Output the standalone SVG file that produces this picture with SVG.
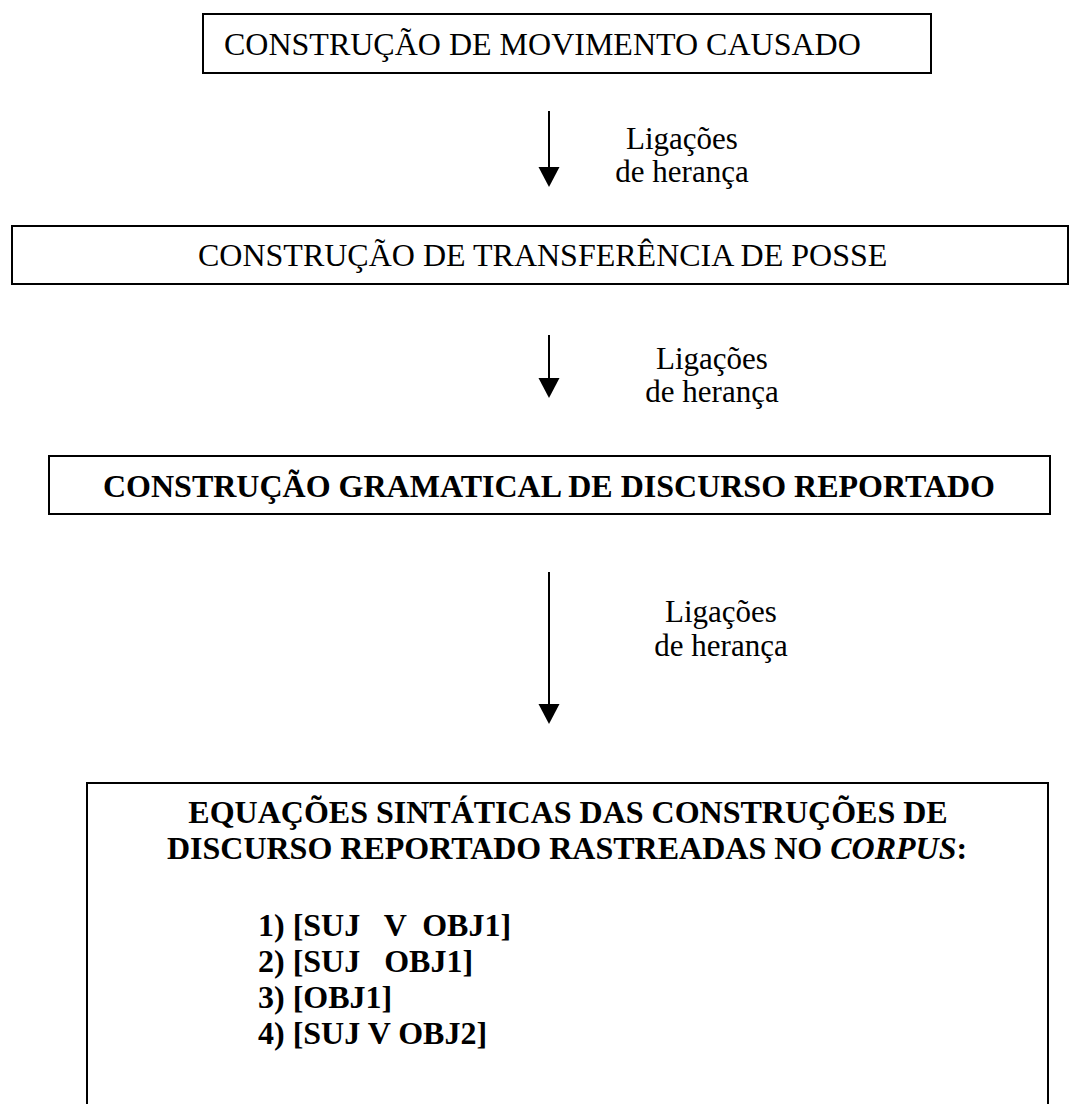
<svg xmlns="http://www.w3.org/2000/svg" width="1072" height="1104" viewBox="0 0 1072 1104">
  <style>
    .box { fill: #ffffff; stroke: #000000; stroke-width: 2; }
    .t { font-family: "Liberation Serif", "Times New Roman", serif; font-size: 32px; fill: #000000; }
    .b { font-weight: bold; }
    .mid { text-anchor: middle; }
    .lbl { font-family: "Liberation Serif", "Times New Roman", serif; font-size: 31px; fill: #000000; text-anchor: middle; }
    .link { stroke: #000000; stroke-width: 2; fill: none; }
    .tip { fill: #000000; }
  </style>
  <rect width="1072" height="1104" fill="#ffffff"/>

  <!-- inheritance links between the construction boxes -->
  <g id="connectors">
    <line class="link" x1="549" y1="111" x2="549" y2="167"/>
    <path class="tip" d="M538.5,167 L559.5,167 L549,187 z"/>
    <line class="link" x1="549" y1="335" x2="549" y2="378"/>
    <path class="tip" d="M538.5,378 L559.5,378 L549,398 z"/>
    <line class="link" x1="549" y1="572" x2="549" y2="704"/>
    <path class="tip" d="M538.5,704 L559.5,704 L549,724 z"/>
    <text class="lbl" x="682" y="149">Ligações</text>
    <text class="lbl" x="682" y="182">de herança</text>
    <text class="lbl" x="712" y="369">Ligações</text>
    <text class="lbl" x="712" y="402">de herança</text>
    <text class="lbl" x="721" y="622">Ligações</text>
    <text class="lbl" x="721" y="656">de herança</text>
  </g>

  <g id="node-movimento">
    <rect class="box" x="203" y="14" width="728" height="59"/>
    <text class="t" x="224" y="55">CONSTRUÇÃO DE MOVIMENTO CAUSADO</text>
  </g>

  <g id="node-transferencia">
    <rect class="box" x="12" y="226" width="1056" height="58"/>
    <text class="t" x="198" y="266">CONSTRUÇÃO DE TRANSFERÊNCIA DE POSSE</text>
  </g>

  <g id="node-discurso">
    <rect class="box" x="49" y="456" width="1001" height="58"/>
    <text class="t b mid" x="549" y="497">CONSTRUÇÃO GRAMATICAL DE DISCURSO REPORTADO</text>
  </g>

  <g id="node-equacoes">
    <rect class="box" x="87" y="783" width="961" height="340"/>
    <text class="t b mid" x="568" y="823">EQUAÇÕES SINTÁTICAS DAS CONSTRUÇÕES DE</text>
    <text class="t b mid" x="567" y="859">DISCURSO REPORTADO RASTREADAS NO <tspan font-style="italic">CORPUS</tspan>:</text>
    <text class="t b" x="258" y="936" xml:space="preserve">1) [SUJ   V  OBJ1]</text>
    <text class="t b" x="258" y="972" xml:space="preserve">2) [SUJ   OBJ1]</text>
    <text class="t b" x="258" y="1008">3) [OBJ1]</text>
    <text class="t b" x="258" y="1044">4) [SUJ V OBJ2]</text>
  </g>
</svg>
